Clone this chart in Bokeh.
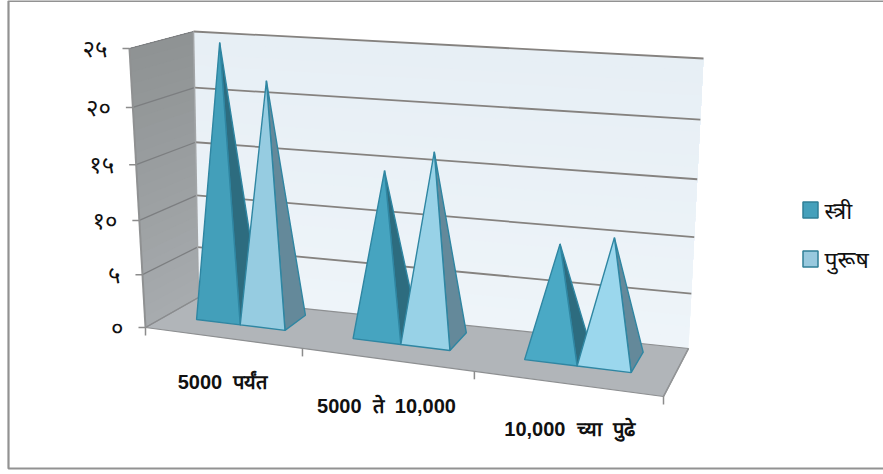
from bokeh.core.properties import value
from bokeh.embed import file_html
from bokeh.models import Range1d
from bokeh.plotting import figure
from bokeh.resources import INLINE

# Chart data
categories = ["5000 पर्यंत", "5000 ते 10,000", "10,000 च्या पुढे"]
female = [25, 15, 10]
male = [22, 17, 11]
series_names = ["स्त्री", "पुरूष"]
value_ticks = [0, 5, 10, 15, 20, 25]
tick_labels = ["०", "५", "१०", "१५", "२०", "२५"]

W, H = 883, 474
VMAX = 25.0

# Screen position of the 3D box corners: (x index, depth index, height index)
CORNERS = {
    (0, 0, 0): (145, 327), (1, 0, 0): (663, 396), (0, 1, 0): (198, 297), (1, 1, 0): (688, 348),
    (0, 0, 1): (129, 48), (1, 0, 1): (682, 92), (0, 1, 1): (193, 31), (1, 1, 1): (703, 58),
}


def warp(t, k):
    return t / (t + k * (1 - t))


def project(u, d, v):
    """Map box coordinates (category units 0-3, depth 0-1, value) to page pixels."""
    a = warp(u / 3.0, 1.15)
    c = warp(v / VMAX, 1.07)
    sx = sy = 0.0
    for (i, j, k), (px, py) in CORNERS.items():
        w = (a if i else 1 - a) * (d if j else 1 - d) * (c if k else 1 - c)
        sx += w * px
        sy += w * py
    return sx, sy


def poly(*pts):
    xy = [project(*pt) for pt in pts]
    return [q[0] for q in xy], [q[1] for q in xy]


def mix(c0, c1, t):
    return "#%02x%02x%02x" % tuple(round(a + (b - a) * t) for a, b in zip(c0, c1))


p = figure(width=W, height=H, output_backend="svg", toolbar_location=None,
           x_range=Range1d(0, W), y_range=Range1d(H, 0), min_border=0)
p.axis.visible = False
p.grid.visible = False
p.outline_line_color = None
p.background_fill_color = "white"
p.border_fill_color = "white"

# Outer chart frame, running off the right of the page
p.line([W + 5, 8, 8, W + 5], [0.5, 0.5, 468, 468], line_color="#929292", line_width=2.2)

# Side wall and back wall: each band paints everything above it, leaving no seams
BANDS = 25
for n in range(BANDS):
    v0 = VMAX * n / BANDS
    t = n / (BANDS - 1)
    xs, ys = poly((0, 0, v0), (0, 1, v0), (0, 1, VMAX), (0, 0, VMAX))
    p.patch(xs, ys, fill_color=mix((0xa7, 0xab, 0xae), (0x8f, 0x93, 0x94), t), line_color=None)
    xs, ys = poly((0, 1, v0), (3, 1, v0), (3, 1, VMAX), (0, 1, VMAX))
    p.patch(xs, ys, fill_color=mix((0xee, 0xf4, 0xf9), (0xe7, 0xef, 0xf5), t), line_color=None)

# Floor
xs, ys = poly((0, 0, 0), (3, 0, 0), (3, 1, 0), (0, 1, 0))
p.patch(xs, ys, fill_color="#b1b5b9", line_color="#8d8f91", line_width=1.2)

# Gridlines across the walls
for tick in value_ticks:
    xs, ys = poly((0, 0, tick), (0, 1, tick), (3, 1, tick))
    if tick == 0:
        p.line(xs[:2], ys[:2], line_color="#8a8c8e", line_width=1.3)
    else:
        p.line(xs[:2], ys[:2], line_color="#7c7e80", line_width=1.2)
        p.line(xs[1:], ys[1:], line_color="#85827f", line_width=1.8)

# Wall edges
xs, ys = poly((0, 0, 0), (0, 0, VMAX))
p.line(xs, ys, line_color="#8f9192", line_width=2)
xs, ys = poly((0, 1, 0), (0, 1, VMAX))
p.line(xs, ys, line_color="#a3a6a8", line_width=1.5)
xs, ys = poly((3, 0, 0), (3, 1, 0))
p.line(xs, ys, line_color="#929496", line_width=1.6)

# Axis ticks and tick labels
for tick, label in zip(value_ticks, tick_labels):
    x, y = project(0, 0, tick)
    p.line([x - 7, x], [y, y], line_color="#8c8c8c", line_width=1.5)
    p.text([x - 22], [y - 1], text=[label], text_align="right", text_baseline="middle",
           text_font=value("Noto Sans"), text_font_size="24px", text_color="#111111")
for u in range(4):
    x, y = project(u, 0, 0)
    p.line([x, x], [y, y + 8], line_color="#8c8c8c", line_width=1.5)

# Pyramids
D0, D1, APEX_D = 0.39, 0.83, 0.56
START, WIDTH = 0.205, 0.288
FRONT = [((0x43, 0x9f, 0xba), (0x4a, 0xa9, 0xc5)), ((0x96, 0xcc, 0xe1), (0x9b, 0xd7, 0xed))]
SIDE = ["#2d6c7f", "#64899a"]
EDGE = "#2f86a2"
for c in range(len(categories)):
    for s, vals in enumerate((female, male)):
        u0, u1 = c + START + s * WIDTH, c + START + (s + 1) * WIDTH
        apex = ((u0 + u1) / 2, APEX_D, vals[c])
        xs, ys = poly((u1, D0, 0), (u1, D1, 0), apex)
        p.patch(xs, ys, fill_color=SIDE[s], line_color=EDGE, line_width=1.4)
        xs, ys = poly((u0, D0, 0), (u1, D0, 0), apex)
        p.patch(xs, ys, fill_color=mix(*FRONT[s], c / 2), line_color=EDGE, line_width=1.4)

# Category labels, with the wide word spacing of the axis font
LABEL_POS = [(222, 381), (386, 405), (569, 428)]
for label, (x, y) in zip(categories, LABEL_POS):
    p.text([x], [y], text=[label.replace(" ", " \u00a0")], text_align="center",
           text_baseline="middle", text_font=value("Liberation Sans"),
           text_font_size="20px", text_font_style="bold", text_color="#111111")

# Legend
LEGEND_Y = [209.5, 258.5]
LEGEND_COL = [("#45a0bb", "#2f7f97"), ("#98c9de", "#2f7f97")]
for name, y, (fill, edge) in zip(series_names, LEGEND_Y, LEGEND_COL):
    p.quad(left=[802.5], right=[817.5], top=[y - 8], bottom=[y + 8], fill_color=fill,
           line_color=edge, line_width=1.5)
    p.text([824], [y], text=[name], text_align="left", text_baseline="middle",
           text_font=value("Noto Sans"), text_font_size="23px", text_color="#111111")

open("out.html", "w").write(file_html(p, INLINE))
